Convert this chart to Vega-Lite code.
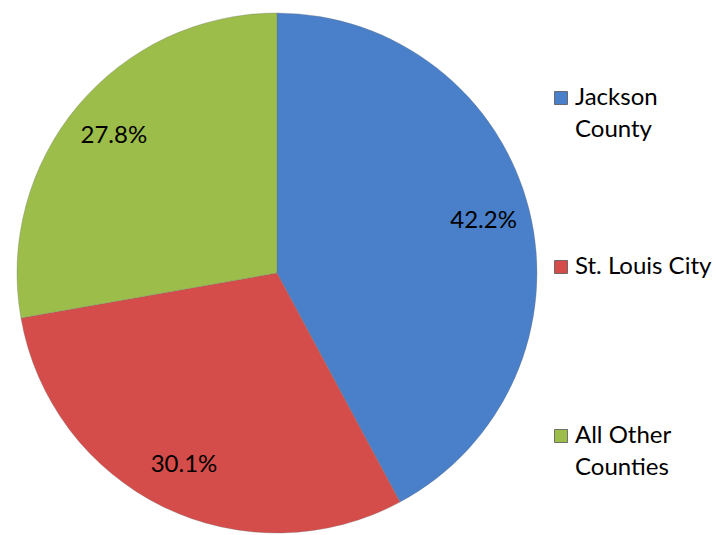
{
  "$schema": "https://vega.github.io/schema/vega-lite/v6.json",
  "width": 554,
  "height": 546,
  "padding": 0,
  "background": "white",
  "config": {
    "view": {"stroke": null},
    "font": "Lato",
    "style": {"guide-label": {"lineHeight": 32}}
  },
  "data": {
    "values": [
      {"region": "Jackson County", "share": 0.422, "rank": 1},
      {"region": "St. Louis City", "share": 0.301, "rank": 2},
      {"region": "All Other Counties", "share": 0.278, "rank": 3}
    ]
  },
  "encoding": {
    "theta": {"field": "share", "type": "quantitative", "stack": true},
    "order": {"field": "rank", "type": "quantitative"}
  },
  "layer": [
    {
      "mark": {"type": "arc", "outerRadius": 260, "stroke": "#6b6b6b", "strokeWidth": 0.6, "strokeOpacity": 0.5},
      "encoding": {
        "color": {
          "field": "region",
          "type": "nominal",
          "scale": {
            "domain": ["Jackson County", "St. Louis City", "All Other Counties"],
            "range": ["#4a80c9", "#d54d4a", "#9cbd4a"]
          },
          "legend": {
            "title": null,
            "orient": "none",
            "legendX": 549,
            "legendY": 86,
            "symbolType": "square",
            "symbolSize": 169,
            "symbolStrokeWidth": 0.8,
            "symbolStrokeColor": "#555555",
            "labelFont": "Lato",
            "labelFontSize": 24,
            "labelColor": "#000000",
            "labelOffset": 2,
            "labelLimit": 300,
            "rowPadding": 113,
            "labelExpr": "datum.label == 'Jackson County' ? ['Jackson', 'County'] : datum.label == 'All Other Counties' ? ['All Other', 'Counties'] : [datum.label, ' ']"
          }
        }
      }
    },
    {
      "mark": {"type": "text", "radius": 213, "font": "Lato", "fontSize": 24, "color": "#000000", "align": "center", "baseline": "middle"},
      "encoding": {
        "text": {"field": "share", "type": "quantitative", "format": ".1%"},
        "detail": {"field": "region"}
      }
    }
  ]
}
